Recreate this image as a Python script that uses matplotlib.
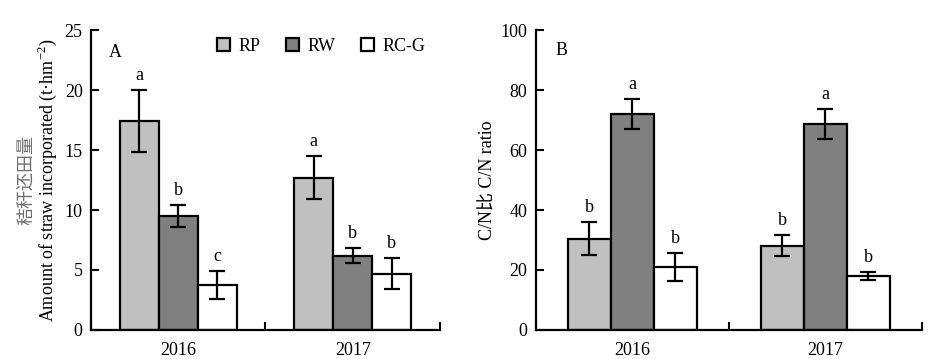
import matplotlib
matplotlib.use("Agg")
import matplotlib.pyplot as plt
import numpy as np
from matplotlib.patches import Patch

plt.rcParams['font.family'] = ['Liberation Serif', 'Noto Sans CJK SC']
plt.rcParams['mathtext.fontset'] = 'custom'
plt.rcParams['mathtext.rm'] = 'Liberation Serif'

years = ["2016", "2017"]
treatments = ["RP", "RW", "RC-G"]
colors = ["#c0c0c0", "#808080", "#ffffff"]

straw_vals = {"RP": [17.4, 12.7], "RW": [9.5, 6.2], "RC-G": [3.75, 4.7]}
straw_err = {"RP": [2.6, 1.8], "RW": [0.9, 0.65], "RC-G": [1.2, 1.3]}
straw_sig = {"RP": ["a", "a"], "RW": ["b", "b"], "RC-G": ["c", "b"]}

cn_vals = {"RP": [30.4, 28.1], "RW": [72.1, 68.8], "RC-G": [21.1, 17.9]}
cn_err = {"RP": [5.5, 3.5], "RW": [5.0, 5.0], "RC-G": [4.7, 1.3]}
cn_sig = {"RP": ["b", "b"], "RW": ["a", "a"], "RC-G": ["b", "b"]}

FS = 13

fig = plt.figure(figsize=(9.45, 3.59), dpi=100)
axA = fig.add_axes([0.0963, 0.0808, 0.3693, 0.8356])
axB = fig.add_axes([0.5669, 0.0808, 0.4084, 0.8356])

width = 0.223
centers = np.array([0.5, 1.5])

def draw(ax, vals, errs, sigs, ymax, step, sig_off):
    for i, t in enumerate(treatments):
        x = centers + (i - 1) * width
        ax.bar(x, vals[t], width, color=colors[i], edgecolor="black",
               linewidth=1.6, zorder=2)
        ax.errorbar(x, vals[t], yerr=errs[t], fmt="none", ecolor="black",
                    elinewidth=1.6, capsize=5.8, capthick=1.6, zorder=3)
        for xi, v, e, s in zip(x, vals[t], errs[t], sigs[t]):
            ax.text(xi, v + e + sig_off, s, ha="center", va="bottom", fontsize=FS)
    ax.set_xlim(0, 2)
    ax.set_ylim(0, ymax)
    ax.set_yticks(np.arange(0, ymax + 0.1, step))
    ax.set_xticks([0, 1, 2])
    ax.set_xticklabels([])
    ax.set_xticks(centers, minor=True)
    ax.set_xticklabels(years, minor=True)
    ax.tick_params(axis="x", which="major", direction="in", length=6, width=1.5)
    ax.tick_params(axis="x", which="minor", length=0, labelsize=FS, pad=9)
    ax.tick_params(axis="y", direction="in", length=6, width=1.5, labelsize=FS, pad=6)
    for s in ["top", "right"]:
        ax.spines[s].set_visible(False)
    for s in ["left", "bottom"]:
        ax.spines[s].set_linewidth(1.6)
    ax.spines["bottom"].set_zorder(4)

draw(axA, straw_vals, straw_err, straw_sig, 25, 5, 0.5)
draw(axB, cn_vals, cn_err, cn_sig, 100, 20, 2.0)

axA.text(0.052, 0.955, "A", transform=axA.transAxes, fontsize=FS, va="top")
axB.text(0.05, 0.96, "B", transform=axB.transAxes, fontsize=FS, va="top")

axA.set_ylabel("Amount of straw incorporated (t·hm$^{-2}$)", fontsize=FS, labelpad=4)
fig.text(0.029, 0.0808 + 0.8356 / 2, "秸秆还田量", rotation=90, ha="center",
         va="center", fontsize=FS, color="#707070")
axB.set_ylabel("C/N比 C/N ratio", fontsize=FS, labelpad=3)

handles = [Patch(facecolor=c, edgecolor="black", linewidth=1.6) for c in colors]
axA.legend(handles, treatments, loc="upper right", ncol=3, frameon=False,
           fontsize=FS, handlelength=0.75, handleheight=0.75, handletextpad=0.45,
           columnspacing=1.4, bbox_to_anchor=(1.005, 1.027))

fig.savefig("out.png", dpi=100)
